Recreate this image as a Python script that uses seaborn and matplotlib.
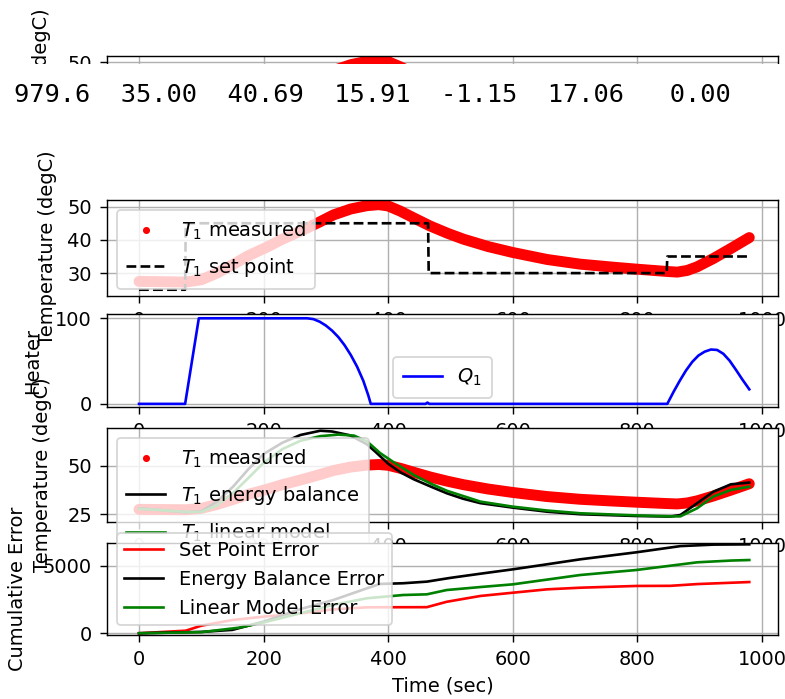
import matplotlib
matplotlib.use("Agg")
import matplotlib.pyplot as plt
from matplotlib.lines import Line2D
from matplotlib.patches import Rectangle
import seaborn as sns
import numpy as np

# ---------------- data ----------------
status_text = "979.6  35.00  40.69  15.91  -1.15  17.06   0.00"

t_meas = [0, 40, 75, 100, 125, 150, 175, 205, 230, 260, 290, 312, 340, 366, 385,
          400, 420, 440, 467, 495, 521, 560, 600, 655, 708, 760, 798, 847, 864,
          880, 896, 922, 950, 979.6]
T1_meas = [27.5, 27.4, 27.3, 28.0, 30.0, 32.5, 35.2, 37.8, 40.2, 42.7, 45.4, 47.5,
           49.3, 50.3, 50.6, 50.2, 48.6, 46.7, 44.2, 42.0, 40.2, 38.0, 36.2, 34.1,
           32.7, 31.8, 31.2, 30.5, 30.3, 30.8, 31.9, 34.4, 37.4, 40.69]

t_sp = [0, 74, 75, 464, 465, 847, 848, 979.6]
T1_sp = [25, 25, 45, 45, 30, 30, 35, 35]

t_q = [0, 74, 96, 270, 280, 290, 300, 310, 320, 330, 340, 350, 360, 368, 372,
       460, 463, 466, 848, 858, 868, 878, 888, 898, 908, 918, 928, 938, 948,
       958, 968, 979.6]
Q1 = [0, 0, 100, 100, 99, 96, 91.5, 85.5, 78, 68.5, 57, 43.5, 27, 10, 0,
      0, 1.5, 0, 0, 14, 27, 39, 49, 56.5, 61, 63.5, 63, 58.5, 50.5,
      40, 29, 17]

t_eb = [0, 40, 75, 100, 125, 151, 175, 200, 230, 259, 291, 310, 339, 366, 380,
        400, 420, 441, 470, 494, 520, 548, 600, 655, 708, 798, 853, 869, 896,
        922, 950, 979.6]
T1_eb = [28.0, 27.0, 26.0, 26.5, 31.5, 39.2, 48.0, 56.0, 61.8, 65.8, 68.0, 67.6,
         65.6, 61.0, 57.0, 51.0, 46.5, 43.0, 39.0, 35.8, 33.0, 30.7, 28.4, 26.3,
         25.0, 24.1, 23.8, 24.6, 30.7, 36.6, 40.4, 41.3]

t_lin = [0, 40, 75, 100, 125, 151, 175, 200, 230, 259, 291, 320, 345, 366, 387,
         410, 441, 470, 494, 548, 600, 655, 708, 798, 853, 869, 896, 922, 950, 979.6]
T1_lin = [27.8, 27.0, 26.2, 26.2, 29.5, 36.0, 43.5, 51.5, 58.5, 62.8, 65.2, 66.0,
          65.5, 62.5, 56.5, 51.5, 45.2, 40.5, 37.1, 31.5, 28.9, 26.9, 25.5, 24.4,
          23.9, 23.9, 28.1, 34.1, 37.5, 39.2]

t_err_sp = [0, 75, 100, 150, 200, 260, 310, 366, 462, 494, 548, 600, 655, 708,
            798, 853, 896, 979.6]
err_sp = [0, 190, 560, 980, 1230, 1480, 1760, 1920, 1930, 2330, 2760, 3000, 3250,
          3370, 3500, 3510, 3640, 3790]

t_err_eb = [0, 100, 150, 200, 260, 312, 366, 387, 424, 462, 500, 550, 600, 650,
            708, 798, 869, 922, 979.6]
err_eb = [0, 100, 250, 860, 1800, 2460, 3330, 3650, 3700, 3820, 4100, 4420, 4730,
          5070, 5470, 5990, 6450, 6560, 6580]

t_err_lin = [0, 100, 161, 200, 259, 312, 366, 424, 462, 494, 548, 600, 708, 798,
             896, 950, 979.6]
err_lin = [0, 80, 414, 800, 1480, 2100, 2590, 2830, 2880, 3200, 3420, 3620, 4310,
           4680, 5250, 5380, 5420]

# ---------------- style ----------------
plt.rcParams.update({
    "font.size": 11,
    "xtick.major.size": 4,
    "ytick.major.size": 4,
    "xtick.major.pad": 4.5,
    "ytick.major.pad": 4.5,
})

# ---------------- figure layout ----------------
W, H, DPI = 785, 699, 127
fig = plt.figure(figsize=(W / DPI, H / DPI), dpi=DPI)
fig.patch.set_facecolor("white")
LEFT, RIGHT = 107, 778

def px_axes(top, bottom, z):
    ax = fig.add_axes([LEFT / W, 1 - bottom / H, (RIGHT - LEFT) / W, (bottom - top) / H])
    ax.set_zorder(z)
    return ax

def label_x(px):
    return (px - LEFT) / (RIGHT - LEFT)

xlim = (-51.4, 1025.7)
xticks = [0, 200, 400, 600, 800, 1000]

def draw_temp_panel(ax):
    sns.lineplot(x=t_meas, y=T1_meas, ax=ax, color="red", lw=6.2, estimator=None,
                 sort=False, solid_capstyle="round")
    sns.lineplot(x=t_sp, y=T1_sp, ax=ax, color="black", lw=1.5, linestyle="--",
                 estimator=None, sort=False)
    ax.set_xlim(*xlim)
    ax.set_ylim(23.2, 52.0)
    ax.set_yticks([30, 40, 50])
    ax.set_xticks(xticks)
    ax.grid(True)

# partial (clipped) previous frame at the top
ax0 = px_axes(55.7, 151.4, 0)
draw_temp_panel(ax0)
fig.text(42 / W, 1 - 8 / H, "Temperature (degC)", rotation=90, ha="center",
         va="top", fontsize=11, zorder=0.5)
fig.patches.append(Rectangle((0, 0), 1, 1 - 63.5 / H, transform=fig.transFigure,
                             facecolor="white", edgecolor="none", zorder=1))

fig.text(14 / W, 1 - 101.5 / H, status_text, family="DejaVu Sans Mono",
         fontsize=14.4, ha="left", va="baseline", zorder=3)

# main figure panels
ax1 = px_axes(200, 295.7, 2)
ax2 = px_axes(314, 407.3, 2)
ax3 = px_axes(428, 522, 2)
ax4 = px_axes(543, 635, 2)

draw_temp_panel(ax1)
ax1.set_ylabel("Temperature (degC)")
ax1.yaxis.set_label_coords(label_x(57), 0.5)
meas_handle = Line2D([], [], color="red", marker=".", linestyle="none", markersize=6)
ax1.legend([meas_handle, Line2D([], [], color="black", ls="--", lw=1.5)],
           [r"$T_1$ measured", r"$T_1$ set point"], loc="upper left",
           labelspacing=0.75, borderpad=0.5)

sns.lineplot(x=t_q, y=Q1, ax=ax2, color="blue", lw=1.5, estimator=None, sort=False)
ax2.set_xlim(*xlim)
ax2.set_ylim(-4, 105)
ax2.set_yticks([0, 100])
ax2.set_xticks(xticks)
ax2.grid(True)
ax2.set_ylabel("Heater")
ax2.yaxis.set_label_coords(label_x(42), 0.5)
ax2.legend([Line2D([], [], color="blue", lw=1.5)], [r"$Q_1$"], loc="lower center",
           borderpad=0.5)

sns.lineplot(x=t_meas, y=T1_meas, ax=ax3, color="red", lw=6.2, estimator=None,
             sort=False, solid_capstyle="round")
sns.lineplot(x=t_eb, y=T1_eb, ax=ax3, color="black", lw=1.5, estimator=None, sort=False)
sns.lineplot(x=t_lin, y=T1_lin, ax=ax3, color="green", lw=1.5, estimator=None, sort=False)
ax3.set_xlim(*xlim)
ax3.set_ylim(21.0, 69.4)
ax3.set_yticks([25, 50])
ax3.set_xticks(xticks)
ax3.grid(True)
ax3.set_ylabel("Temperature (degC)")
ax3.yaxis.set_label_coords(label_x(52), 0.5)
ax3.legend([meas_handle, Line2D([], [], color="black", lw=1.5),
            Line2D([], [], color="green", lw=1.5)],
           [r"$T_1$ measured", r"$T_1$ energy balance", r"$T_1$ linear model"],
           loc="upper left", labelspacing=0.75, borderpad=0.5)

sns.lineplot(x=t_err_sp, y=err_sp, ax=ax4, color="red", lw=1.5, estimator=None, sort=False)
sns.lineplot(x=t_err_eb, y=err_eb, ax=ax4, color="black", lw=1.5, estimator=None, sort=False)
sns.lineplot(x=t_err_lin, y=err_lin, ax=ax4, color="green", lw=1.5, estimator=None, sort=False)
ax4.set_xlim(*xlim)
ax4.set_ylim(-130, 6680)
ax4.set_yticks([0, 5000])
ax4.set_xticks(xticks)
ax4.grid(True)
ax4.set_ylabel("Cumulative Error")
ax4.yaxis.set_label_coords(label_x(27), 0.5)
ax4.set_xlabel("Time (sec)")
ax4.legend([Line2D([], [], color="red", lw=1.5), Line2D([], [], color="black", lw=1.5),
            Line2D([], [], color="green", lw=1.5)],
           ["Set Point Error", "Energy Balance Error", "Linear Model Error"],
           loc="lower left")

fig.savefig("out.png", dpi=DPI)
